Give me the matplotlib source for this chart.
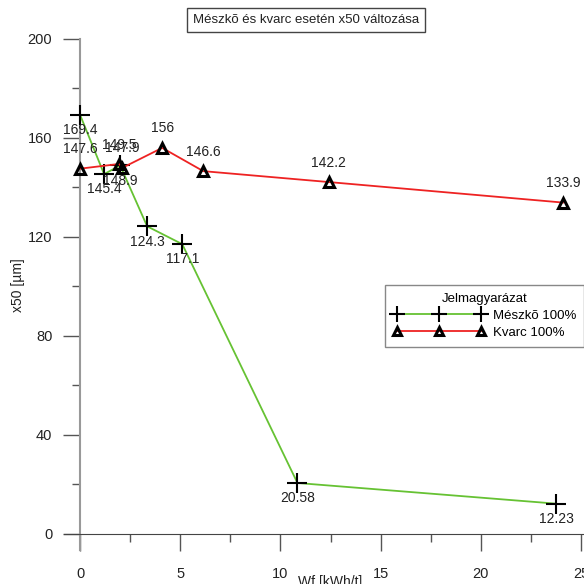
import matplotlib
matplotlib.use('AGG')
import matplotlib.pyplot as plt
from matplotlib.ticker import MultipleLocator

plt.rcParams['font.family'] = ['Liberation Sans', 'DejaVu Sans']

# data
meszko_x = [0, 1.2, 2.0, 3.35, 5.1, 10.85, 23.75]
meszko_y = [169.4, 145.4, 148.9, 124.3, 117.1, 20.58, 12.23]
meszko_lbl = ["169.4", "145.4", "148.9", "124.3", "117.1", "20.58", "12.23"]

kvarc_x = [0, 1.95, 2.1, 4.1, 6.15, 12.4, 24.1]
kvarc_y = [147.6, 149.5, 147.9, 156, 146.6, 142.2, 133.9]
kvarc_lbl = ["147.6", "149.5", "147.9", "156", "146.6", "142.2", "133.9"]

def main():
    fig = plt.figure(figsize=(5.84, 5.84), dpi=100)
    ax = fig.add_axes([64/584, 1-550/584, 1-64/584, (550-39)/584])

    ax.plot(meszko_x, meszko_y, color='#66c233', lw=1.3, marker='+',
            ms=14, mec='black', mew=1.5, label='Mészkõ 100%', zorder=3)
    ax.plot(kvarc_x, kvarc_y, color='#ee2222', lw=1.3, marker='^',
            ms=6.5, mec='black', mfc='none', mew=2.2, label='Kvarc 100%', zorder=3)

    for x, y, t in zip(meszko_x, meszko_y, meszko_lbl):
        ax.annotate(t, (x, y), xytext=(0, -11), textcoords='offset points',
                    ha='center', va='center', fontsize=10, color='#222222')
    for x, y, t in zip(kvarc_x, kvarc_y, kvarc_lbl):
        ax.annotate(t, (x, y), xytext=(0, 14), textcoords='offset points',
                    ha='center', va='center', fontsize=10, color='#222222')

    ax.set_xlim(-0.8, 25.15)
    ax.set_ylim(-6.5, 200)
    ax.spines['top'].set_visible(False)
    ax.spines['right'].set_visible(False)
    ax.spines['left'].set_position(('data', 0))
    ax.spines['bottom'].set_position(('data', 0))
    ax.spines['left'].set_color('#999999')
    ax.spines['left'].set_linewidth(1.5)
    ax.spines['bottom'].set_color('#444444')

    ax.xaxis.set_major_locator(MultipleLocator(5))
    ax.xaxis.set_minor_locator(MultipleLocator(2.5))
    ax.yaxis.set_major_locator(MultipleLocator(40))
    ax.yaxis.set_minor_locator(MultipleLocator(20))
    ax.tick_params(which='major', direction='out', length=12, width=1,
                   color='#555555', labelsize=10.5, labelcolor='#222222')
    ax.tick_params(which='minor', direction='out', length=6, width=1,
                   color='#555555')
    ax.tick_params(axis='x', which='major', pad=12)
    ax.tick_params(axis='y', which='major', pad=8)

    fig.text(18/584, 1-285/584, 'x50 [µm]', rotation=90, ha='center',
             va='center', fontsize=10, color='#222222')
    fig.text(330/584, 1-582/584, 'Wf [kWh/t]', ha='center', va='center',
             fontsize=10, color='#222222')

    fig.text(306/584, 1-20/584, 'Mészkõ és kvarc esetén x50 változása',
             ha='center', va='center', fontsize=9.5, color='#222222',
             bbox=dict(boxstyle='square,pad=0.45', fc='white', ec='#444444', lw=1))

    leg = ax.legend(loc='upper left', bbox_to_anchor=(385/584, 1-285/584),
                    bbox_transform=fig.transFigure, title='Jelmagyarázat',
                    fontsize=9.5, title_fontsize=9.5, numpoints=3, handlelength=7.0,
                    markerscale=0.8, fancybox=False, edgecolor='#888888',
                    framealpha=1, borderpad=0.6, labelspacing=0.35,
                    handletextpad=0.6, borderaxespad=0)
    leg.get_frame().set_linewidth(1)

    plt.savefig("out.png", dpi=100)

if __name__ == "__main__":
    main()
